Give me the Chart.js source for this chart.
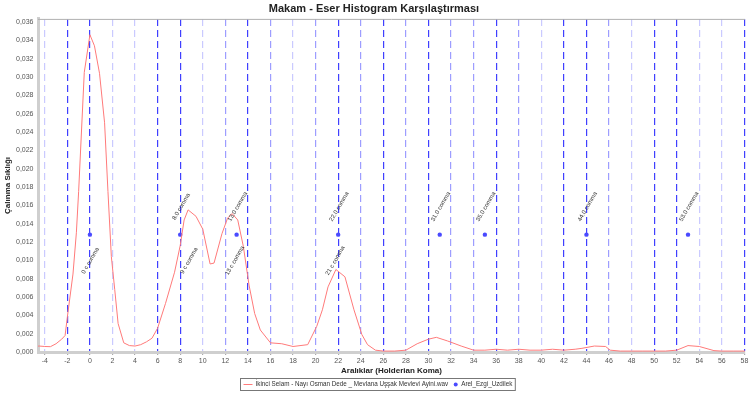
<!DOCTYPE html>
<html>
<head>
<meta charset="utf-8">
<script src="https://cdn.jsdelivr.net/npm/chart.js@4.4.0/dist/chart.umd.min.js"></script>
<style>
  html, body { margin: 0; padding: 0; background: #fff; }
  #wrap { width: 749px; height: 395px; }
</style>
</head>
<body>
<div id="wrap"><canvas id="chart"></canvas></div>
<script>
// histogram of the recording (x in Holderian comma, y = frequency)
const histX = [-5, -4.5, -4, -3.5, -3, -2.5, -2.2, -2, -1.5, -1.2, -1, -0.5, 0, 0.4, 0.85, 1.3, 1.6, 1.9, 2.2, 2.5, 3, 3.5, 4, 4.5, 5, 5.5, 6, 6.7, 7.5, 8, 8.35, 8.7, 9.4, 10, 10.65, 11, 11.7, 12.2, 12.6, 13.1, 13.6, 14.1, 14.6, 15.1, 16, 17, 18, 19.3, 20.1, 20.6, 21.1, 21.8, 22.6, 23.4, 24.1, 24.6, 25.3, 26, 27, 28, 29, 30, 30.7, 31.7, 32.9, 34, 35, 36, 37, 38, 39, 40, 41, 42, 43, 43.6, 44.7, 45.7, 46.1, 47, 48, 49, 50, 51, 52, 53, 54, 55.3, 56, 57, 58, 59];
const histY = [0.0006, 0.00065, 0.0006, 0.00058, 0.0009, 0.0014, 0.0018, 0.0038, 0.0085, 0.0130, 0.0175, 0.0305, 0.0346, 0.0334, 0.0304, 0.0250, 0.0175, 0.0104, 0.0068, 0.0031, 0.0010, 0.0007, 0.00065, 0.0008, 0.0011, 0.0015, 0.0026, 0.0053, 0.0087, 0.0116, 0.0144, 0.0155, 0.0148, 0.0134, 0.0096, 0.0097, 0.0129, 0.0146, 0.0151, 0.0144, 0.0115, 0.0073, 0.0042, 0.0024, 0.0010, 0.0009, 0.0006, 0.0008, 0.0028, 0.0046, 0.0071, 0.0090, 0.0082, 0.0046, 0.0019, 0.0008, 0.0002, 0.0001, 0.0001, 0.0002, 0.0009, 0.0014, 0.0016, 0.0012, 0.00065, 0.0002, 0.0002, 0.0003, 0.0002, 0.0003, 0.0002, 0.0002, 0.0003, 0.0002, 0.0003, 0.0004, 0.00065, 0.0006, 0.0002, 0.0001, 0.0001, 0.0001, 0.0001, 0.0001, 0.0002, 0.0007, 0.0006, 0.00015, 0.0001, 0.0001, 0.0001, 0.0001];

// Arel-Ezgi-Uzdilek theoretical intervals
const arelX = [0, 8, 13, 22, 31, 35, 44, 53];
const arelY = [0.0128, 0.0128, 0.0128, 0.0128, 0.0128, 0.0128, 0.0128, 0.0128];
const arelLabels = ["", "8.0 comma", "13.0 comma", "22.0 comma", "31.0 comma", "35.0 comma", "44.0 comma", "53.0 comma"];

// detected peaks of the histogram
const peakX = [0.05, 8.8, 12.85, 21.75];
const peakLabels = ["0 c comma", "9 c comma", "13 c comma", "21 c comma"];

const seriesNames = ["İkinci Selam - Nayı Osman Dede _ Mevlana Uşşak Mevlevi Ayini.wav", "Arel_Ezgi_Uzdilek"];

// gridline strength per tick value
const strongTicks = [-2, 0, 6, 8, 14, 22, 26, 30, 36, 42, 44, 50, 52, 58];
const mediumTicks = [12, 16, 20, 24, 28, 32, 34, 38, 46];

const FONT = '"Liberation Sans", Arial, sans-serif';

const notePlugin = {
  id: 'noteLabels',
  afterDatasetsDraw(chart) {
    const { ctx, scales: { x, y } } = chart;
    ctx.save();
    ctx.font = '6px ' + FONT;
    ctx.fillStyle = '#333';
    ctx.textAlign = 'center';
    ctx.textBaseline = 'middle';
    arelX.forEach((v, i) => {
      if (!arelLabels[i]) return;
      const px = x.getPixelForValue(v);
      const py = y.getPixelForValue(arelY[i]);
      ctx.save();
      ctx.translate(px + 1, py - 28);
      ctx.rotate(-Math.PI / 3);
      ctx.fillText(arelLabels[i], 0, 0);
      ctx.restore();
    });
    const base = y.getPixelForValue(arelY[0]);
    peakX.forEach((v, i) => {
      const px = x.getPixelForValue(v);
      ctx.save();
      ctx.translate(px, base + 26);
      ctx.rotate(-Math.PI / 3);
      ctx.fillText(peakLabels[i], 0, 0);
      ctx.restore();
    });
    ctx.restore();
  }
};

const framePlugin = {
  id: 'frame',
  afterDraw(chart) {
    const { ctx, chartArea: a } = chart;
    ctx.save();
    ctx.strokeStyle = '#b0b0b0';
    ctx.lineWidth = 1;
    ctx.beginPath();
    ctx.moveTo(a.left, a.top + 0.5);
    ctx.lineTo(a.right, a.top + 0.5);
    ctx.stroke();

    // boxed legend under the axis title
    ctx.font = '6.3px ' + FONT;
    ctx.textBaseline = 'middle';
    ctx.textAlign = 'left';
    const t1 = chart.data.datasets[0].label;
    const t2 = chart.data.datasets[1].label;
    const w1 = ctx.measureText(t1).width;
    const w2 = ctx.measureText(t2).width;
    const total = 3 + 9 + 3 + w1 + 5 + 5 + 3 + w2 + 3;
    const left = Math.round(chart.width / 2 - total / 2 + 3) + 0.5;
    const top = chart.height - 17 + 0.5;
    const h = 12;
    ctx.strokeStyle = '#777';
    ctx.strokeRect(left, top, total, h);
    const cy = top + h / 2;
    let cx = left + 3;
    ctx.strokeStyle = chart.data.datasets[0].borderColor;
    ctx.beginPath();
    ctx.moveTo(cx, cy);
    ctx.lineTo(cx + 9, cy);
    ctx.stroke();
    cx += 12;
    ctx.fillStyle = '#333';
    ctx.fillText(t1, cx, cy);
    cx += w1 + 5;
    ctx.fillStyle = chart.data.datasets[1].backgroundColor;
    ctx.beginPath();
    ctx.arc(cx + 2.5, cy, 2, 0, Math.PI * 2);
    ctx.fill();
    cx += 8;
    ctx.fillStyle = '#333';
    ctx.fillText(t2, cx, cy);
    ctx.restore();
  }
};

new Chart(document.getElementById('chart'), {
  type: 'scatter',
  data: {
    datasets: [
      {
        label: seriesNames[0],
        data: histX.map((v, i) => ({ x: v, y: histY[i] })),
        showLine: true,
        borderColor: '#ff7a7a',
        backgroundColor: '#ff7a7a',
        borderWidth: 1,
        pointRadius: 0,
        tension: 0
      },
      {
        label: seriesNames[1],
        data: arelX.map((v, i) => ({ x: v, y: arelY[i] })),
        showLine: false,
        borderColor: '#4a4aff',
        backgroundColor: '#4a4aff',
        pointRadius: 2.2,
        borderWidth: 0
      }
    ]
  },
  options: {
    responsive: true,
    maintainAspectRatio: false,
    animation: false,
    layout: { padding: { top: 0, left: 0, right: 1, bottom: 18 } },
    plugins: {
      legend: { display: false },
      tooltip: { enabled: false },
      title: {
        display: true,
        text: 'Makam - Eser Histogram Karşılaştırması',
        color: '#222',
        font: { family: FONT, size: 11, weight: 'bold', lineHeight: 1.2 },
        padding: { top: 2, bottom: 3.7 }
      }
    },
    scales: {
      x: {
        type: 'linear',
        min: -4.6,
        max: 58.05,
        afterFit(s) { s.height = 25; s.paddingLeft = 0; s.paddingRight = 0; },
        ticks: {
          stepSize: 2,
          includeBounds: false,
          maxRotation: 0,
          autoSkip: false,
          padding: 2,
          color: '#555',
          font: { family: FONT, size: 7 }
        },
        grid: {
          drawTicks: true,
          tickLength: 3,
          tickColor: '#aaa',
          lineWidth: 1.2,
          color(c) {
            const v = c.tick && c.tick.value;
            if (strongTicks.includes(v)) return 'rgba(30,30,255,0.85)';
            if (mediumTicks.includes(v)) return 'rgba(60,60,255,0.5)';
            return 'rgba(80,80,255,0.3)';
          }
        },
        border: { display: true, color: '#cfcfcf', width: 3, dash: [7, 4] },
        title: {
          display: true,
          text: 'Aralıklar (Holderian Koma)',
          color: '#222',
          font: { family: FONT, size: 8, weight: 'bold', lineHeight: 1.2 },
          padding: { top: 0, bottom: 1.2 }
        }
      },
      y: {
        min: 0,
        max: 0.03633,
        afterFit(s) { s.width = 38; s.paddingTop = 0; s.paddingBottom = 0; },
        ticks: {
          stepSize: 0.002,
          includeBounds: false,
          padding: 4.5,
          color: '#555',
          font: { family: FONT, size: 7 },
          callback: (v) => v.toFixed(3).replace('.', ',')
        },
        grid: { display: false, drawTicks: false, tickLength: 0 },
        border: { display: true, color: '#cfcfcf', width: 3 },
        title: {
          display: true,
          text: 'Çalınma Sıklığı',
          color: '#222',
          font: { family: FONT, size: 8, weight: 'bold', lineHeight: 1.2 },
          padding: { top: 3.2, bottom: 0 }
        }
      }
    }
  },
  plugins: [notePlugin, framePlugin]
});
</script>
</body>
</html>
